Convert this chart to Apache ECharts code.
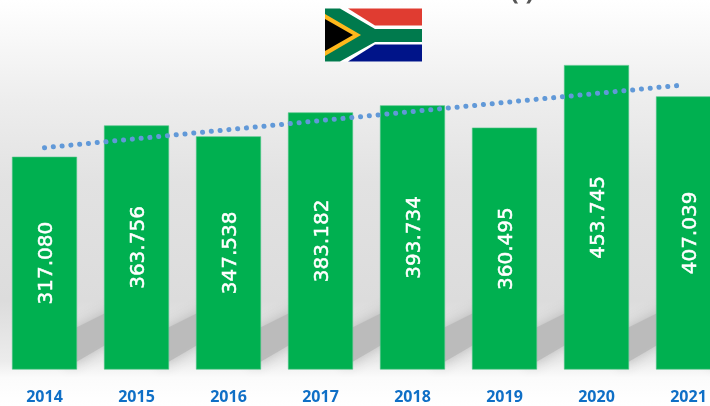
<!DOCTYPE html>
<html><head><meta charset="utf-8">
<style>html,body{margin:0;padding:0;background:#fff}#c{width:710px;height:406px}</style>
<script src="https://cdn.jsdelivr.net/npm/echarts@6/dist/echarts.min.js"></script>
</head><body><div id="c"></div>
<script>
const categories = ['2014','2015','2016','2017','2018','2019','2020','2021'];
const values = [317.080,363.756,347.538,383.182,393.734,360.495,453.745,407.039];
const labelTexts = ['317.080','363.756','347.538','383.182','393.734','360.495','453.745','407.039'];
const trendPositions = [0,1,2,3,4,5,6,6.9];
const trendValues = [330.6,344,357.5,371,384.5,398,411.5,423.5];

const chart = echarts.init(document.getElementById('c'), null, {renderer:'canvas'});
const poly = (pts, fill) => ({type:'polygon', shape:{points:pts}, style:{fill}, silent:true});
chart.setOption({
  animation:false,
  backgroundColor:{type:'linear',x:0,y:0,x2:0,y2:1,colorStops:[
    {offset:0,color:'#ffffff'},{offset:0.25,color:'#ededed'},{offset:0.45,color:'#e2e2e2'},
    {offset:0.74,color:'#dcdcdc'},{offset:0.89,color:'#ececec'},{offset:0.93,color:'#fbfbfb'},{offset:1,color:'#ffffff'}]},
  grid:{left:-1.5,top:0.5,width:736,height:369,containLabel:false,outerBoundsMode:'none'},
  xAxis:[{type:'category',data:categories,axisLine:{show:false},axisTick:{show:false},
    axisLabel:{color:'#0F6FC6',fontFamily:'Open Sans',fontWeight:'bold',fontSize:16,margin:20}},
    {type:'value',min:-0.5,max:7.5,show:false}],
  yAxis:{type:'value',min:0,max:550,show:false,splitLine:{show:false}},
  series:[
    {type:'custom',z:1,silent:true,xAxisIndex:0,clip:false,data:values.map((v,i)=>[i,0]),
      renderItem:(p,api)=>{
        const b=api.coord([api.value(0),0]);
        const x=b[0], y=b[1];
        return {type:'polygon',shape:{points:[[x+24,y-38],[x+72,y-62],[x+72,y-31],[x+24,y-3]]},
          style:{fill:'rgba(186,186,186,0.95)',shadowBlur:14,shadowColor:'rgba(180,180,180,1)'}};
      }},
    {type:'bar',z:2,data:values,barWidth:65,xAxisIndex:0,
      itemStyle:{color:'#00B050',borderColor:'#4cc585',borderWidth:0.6},
      label:{show:true,position:'inside',rotate:90,offset:[0,2],color:'#fff',fontFamily:'DejaVu Sans',fontSize:20,
        textBorderColor:'#fff',textBorderWidth:0.5,formatter:p=>labelTexts[p.dataIndex]}},
    {type:'line',z:3,xAxisIndex:1,data:trendPositions.map((x,i)=>[x,trendValues[i]]),symbol:'none',
      lineStyle:{color:'#6199D8',width:5,cap:'round',type:[0.1,8.72]}}
  ],
  graphic:[
    {type:'text',left:510,top:-21,z:10,silent:true,style:{text:'( )',fill:'#555',font:'bold 26px "Open Sans"'}},
    {type:'group',z:10,silent:true,children:[
      {type:'rect',shape:{x:325,y:8.5,width:97,height:53},style:{fill:'#fff'},silent:true},
      poly([[348,8.5],[422,8.5],[422,25.5],[375,25.5]],'#E03C31'),
      poly([[348,61.5],[422,61.5],[422,44.5],[375,44.5]],'#001489'),
      poly([[325,8.5],[340,8.5],[375,29],[422,29],[422,42],[375,42],[340,61.5],[325,61.5]],'#007A4D'),
      poly([[325,14],[361,35],[325,56]],'#FFB81C'),
      poly([[325,19],[353,35],[325,51]],'#000')
    ]}
  ]
});
</script></body></html>
